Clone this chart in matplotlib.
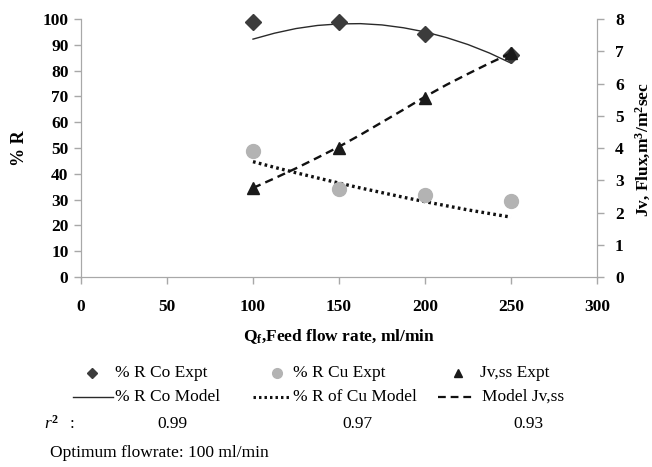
import matplotlib
matplotlib.use("Agg")
import matplotlib.pyplot as plt
from matplotlib.lines import Line2D

plt.rcParams['font.family'] = ['Liberation Serif', 'DejaVu Serif']
plt.rcParams['mathtext.fontset'] = 'custom'
plt.rcParams['mathtext.rm'] = 'Liberation Serif'
plt.rcParams['mathtext.it'] = 'Liberation Serif:italic'
plt.rcParams['mathtext.bf'] = 'Liberation Serif:bold'

# Experimental data
flow_expt = [100, 150, 200, 250]
co_expt = [99.0, 98.8, 94.2, 86.0]
cu_expt = [49.0, 34.2, 31.8, 29.4]
jv_expt = [2.76, 4.0, 5.56, 6.94]

# Model curves
flow_model = [100, 112.5, 125, 137.5, 150, 162.5, 175, 187.5, 200, 212.5, 225, 237.5, 250]
co_model = [92.2, 94.5, 96.3, 97.5, 98.1, 98.2, 97.7, 96.6, 95.0, 92.8, 90.1, 86.8, 82.9]
cu_model = [44.7, 42.5, 40.4, 38.4, 36.4, 34.5, 32.7, 30.9, 29.2, 27.6, 26.0, 24.6, 23.2]
jv_model = [2.76, 3.06, 3.37, 3.70, 4.04, 4.41, 4.80, 5.19, 5.59, 5.96, 6.30, 6.63, 6.94]

legend_labels = ['% R Co Expt', '% R Cu Expt', 'Jv,ss Expt',
                 '% R Co Model', '% R of Cu Model', 'Model Jv,ss']
r2_values = ["0.99", "0.97", "0.93"]

W, H = 652, 467
fig = plt.figure(figsize=(W / 100, H / 100), dpi=100)
ax = fig.add_axes([81 / W, 1 - 277 / H, (597 - 81) / W, (277 - 19) / H])
ax2 = ax.twinx()

gray = '#a8a8a8'
for a in (ax, ax2):
    a.spines['top'].set_visible(False)
    for s in ('left', 'right', 'bottom'):
        a.spines[s].set_color(gray)
    a.tick_params(colors=gray, labelcolor='black', length=5, width=1)

ax.set_xlim(0, 300)
ax.set_ylim(0, 100)
ax2.set_ylim(0, 8)
ax.set_xticks(range(0, 301, 50))
ax.set_yticks(range(0, 101, 10))
ax2.set_yticks(range(0, 9))
for lab in ax.get_xticklabels() + ax.get_yticklabels() + ax2.get_yticklabels():
    lab.set_fontweight('bold')
    lab.set_fontsize(12.5)
ax.tick_params(axis='x', pad=11)
ax.tick_params(axis='y', pad=4)
ax2.tick_params(axis='y', pad=8)

co_c, cu_c, jv_c = '#3c3c3c', '#b3b3b3', '#1a1a1a'
ax.plot(flow_model, co_model, color='#2a2a2a', lw=1.0, ls='-')
ax.plot(flow_model, cu_model, color='#111111', lw=2.4, ls=(0, (0.8, 1.0)))
ax.plot(flow_expt, co_expt, ls='none', marker='D', ms=8.5, color=co_c, clip_on=False, zorder=5)
ax.plot(flow_expt, cu_expt, ls='none', marker='o', ms=10, color=cu_c, clip_on=False, zorder=5)
ax2.plot(flow_model, jv_model, color='#111111', lw=1.7, ls=(0, (3.5, 2.2)))
ax2.plot(flow_expt, jv_expt, ls='none', marker='^', ms=8, color=jv_c, clip_on=False, zorder=6)

ax.set_xlabel(r'Q$_\mathbf{f}$,Feed flow rate, ml/min', fontweight='bold', fontsize=12.5)
ax.xaxis.set_label_coords(339 / W, 1 - 337 / H, transform=fig.transFigure)
ax.set_ylabel('% R', fontweight='bold', fontsize=13)
ax.yaxis.set_label_coords(20 / W, 1 - 148 / H, transform=fig.transFigure)
ax2.set_ylabel(r'Jv, Flux,m$^\mathbf{3}$/m$^\mathbf{2}$sec', fontweight='bold', fontsize=12.5)
ax2.yaxis.set_label_coords(643 / W, 1 - 150 / H, transform=fig.transFigure)
ax2.yaxis.label.set_va('center')
ax.yaxis.label.set_va('center')
ax.xaxis.label.set_va('center')

# Legend (laid out like the original spreadsheet legend)
def fx(p):
    return p / W

def fy(p):
    return 1 - p / H

row1, row2 = 373, 397
fs = 12.5
marker_entries = [(92, 115, 'D', 5, co_c), (277, 293, 'o', 7, cu_c), (458, 480, '^', 5.5, jv_c)]
for (mx, tx, mk, ms, c), lab in zip(marker_entries, legend_labels[:3]):
    fig.add_artist(Line2D([fx(mx)], [fy(row1)], ls='none', marker=mk, ms=ms, color=c,
                          transform=fig.transFigure))
    fig.text(fx(tx), fy(row1), lab, fontsize=fs, va='center', ha='left')

line_entries = [(73, 113, 115, dict(lw=1.0, ls='-', color='#2a2a2a')),
                (253, 291, 293, dict(lw=2.2, ls=(0, (0.8, 1.0)), color='#111111')),
                (438, 472, 482, dict(lw=1.6, ls=(0, (3.5, 2.2)), color='#111111'))]
for (x0, x1, tx, st), lab in zip(line_entries, legend_labels[3:]):
    fig.add_artist(Line2D([fx(x0), fx(x1)], [fy(row2), fy(row2)], transform=fig.transFigure, **st))
    fig.text(fx(tx), fy(row2), lab, fontsize=fs, va='center', ha='left')

fig.text(fx(44), fy(424), r'$\mathit{r}^{\mathbf{2}}$', fontsize=fs, va='center', ha='left')
fig.text(fx(70), fy(424), ':', fontsize=fs, va='center', ha='left')
for xp, v in zip([172, 357, 528], r2_values):
    fig.text(fx(xp), fy(424), v, fontsize=fs, va='center', ha='center')
fig.text(fx(50), fy(453), 'Optimum flowrate: 100 ml/min', fontsize=fs, va='center', ha='left')

fig.savefig('out.png', dpi=100)
